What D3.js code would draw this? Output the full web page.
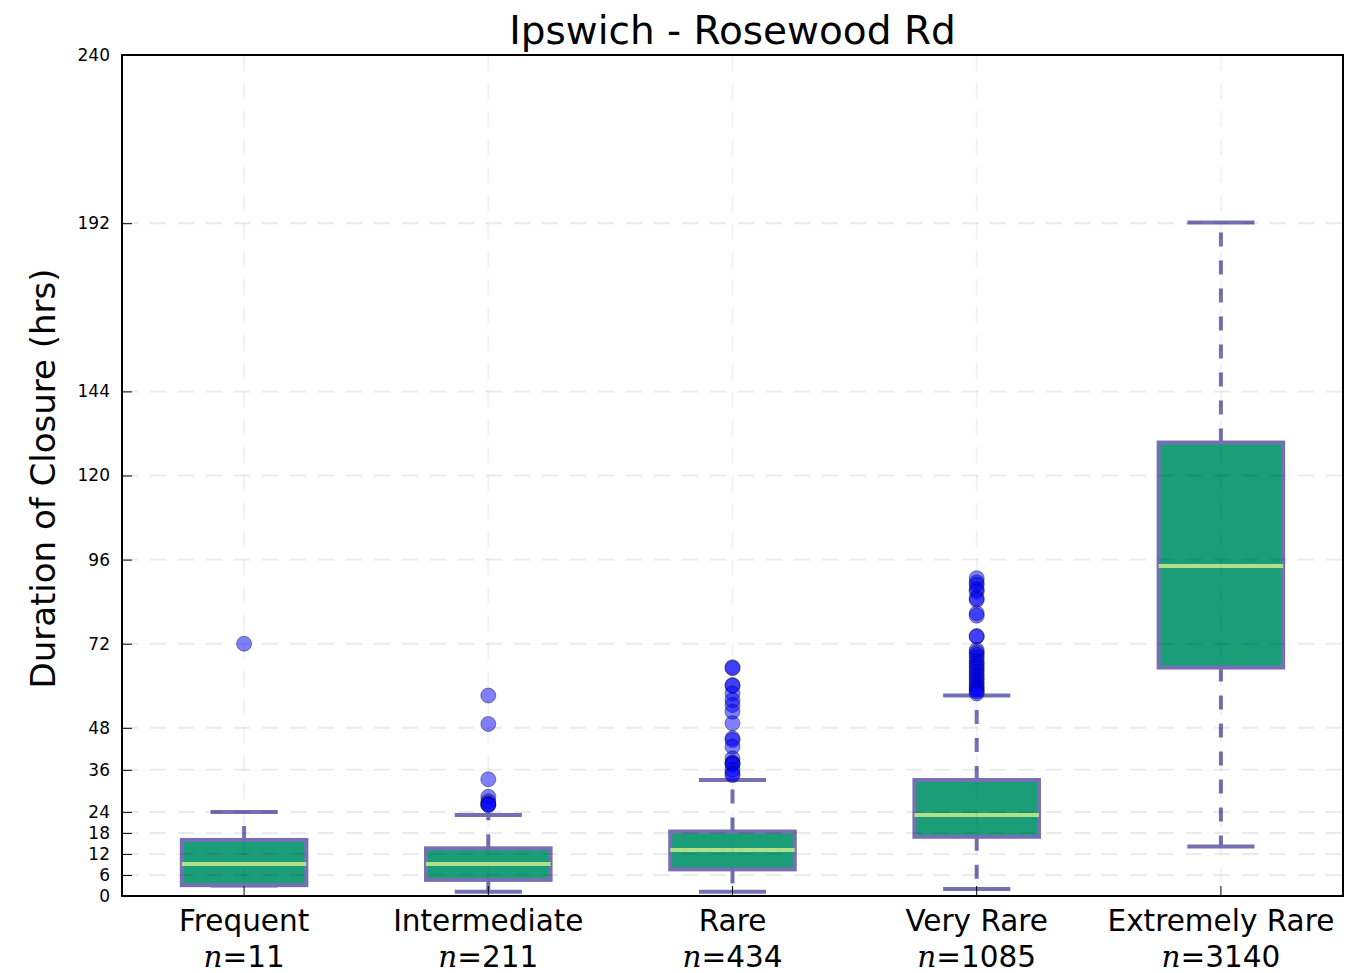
<!DOCTYPE html>
<html>
<head>
<meta charset="utf-8">
<script src="https://cdn.jsdelivr.net/npm/d3@7"></script>
<style>
  body { margin: 0; background: #fff; }
</style>
</head>
<body>
<div id="chart"></div>
<script>
const categories = ["Frequent", "Intermediate", "Rare", "Very Rare", "Extremely Rare"];
const counts = [11, 211, 434, 1085, 3140];
const whiskerLow = [3, 1.2, 1.2, 2, 14.1];
const q1 = [3.1, 4.6, 7.6, 16.9, 65.2];
const medians = [9.1, 9.1, 13.1, 23.1, 94.2];
const q3 = [16, 13.6, 18.4, 33.1, 129.4];
const whiskerHigh = [24, 23.1, 33.1, 57.2, 192.2];
const outliers = [
  [72],
  [57.2, 49.1, 33.3, 28.3, 27, 26.3, 26, 26],
  [65.3, 65, 60.2, 60, 57.8, 55.9, 54.5, 52.6, 49.3, 45, 44.5, 42.6, 39.3, 38, 37.9, 37.5, 36, 35, 34.5],
  [90.7, 89.5, 88.8, 87.5, 86.9, 85, 84.5, 80.7, 80, 74.2, 74, 70.2, 69.5, 68.8, 68, 67, 66.3, 65.5,
   64.8, 64, 63.2, 62.5, 61.8, 61, 60.3, 59.6, 59, 58.4, 57.8],
  []
];
const yTicks = [0, 6, 12, 18, 24, 36, 48, 72, 96, 120, 144, 192, 240];

const margin = {top: 55, right: 24, bottom: 77, left: 122};
const width = 1367, height = 973;
const visWidth = width - margin.left - margin.right;
const visHeight = height - margin.top - margin.bottom;

const purple = "#7570b3", teal = "#1b9e77", medColor = "#b2df8a";

const svg = d3.select("#chart").append("svg")
    .attr("width", width)
    .attr("height", height);

const g = svg.append("g")
  .attr("transform", `translate(${margin.left}, ${margin.top})`);

const x = d3.scaleLinear().domain([0.5, categories.length + 0.5]).range([0, visWidth]);
const y = d3.scaleLinear().domain([0, 240]).range([visHeight, 0]);
const unit = x(1) - x(0);
const boxW = 0.51 * unit, capW = 0.275 * unit;

const idx = d3.range(categories.length);

// boxes, whiskers, caps
const dashes = "14,14";
g.append("g").selectAll("line")
  .data(idx.flatMap(i => [[i, q3[i], whiskerHigh[i]], [i, q1[i], whiskerLow[i]]]))
  .join("line")
    .attr("x1", d => x(d[0] + 1)).attr("x2", d => x(d[0] + 1))
    .attr("y1", d => y(d[1])).attr("y2", d => y(d[2]))
    .attr("stroke", purple).attr("stroke-width", 4)
    .attr("stroke-dasharray", dashes);

g.append("g").selectAll("line")
  .data(idx.flatMap(i => [[i, whiskerHigh[i]], [i, whiskerLow[i]]]))
  .join("line")
    .attr("x1", d => x(d[0] + 1) - capW / 2).attr("x2", d => x(d[0] + 1) + capW / 2)
    .attr("y1", d => y(d[1])).attr("y2", d => y(d[1]))
    .attr("stroke", purple).attr("stroke-width", 4);

g.append("g").selectAll("rect")
  .data(idx)
  .join("rect")
    .attr("x", i => x(i + 1) - boxW / 2)
    .attr("width", boxW)
    .attr("y", i => y(q3[i]))
    .attr("height", i => y(q1[i]) - y(q3[i]))
    .attr("fill", teal)
    .attr("stroke", purple).attr("stroke-width", 4);

g.append("g").selectAll("line")
  .data(idx)
  .join("line")
    .attr("x1", i => x(i + 1) - boxW / 2).attr("x2", i => x(i + 1) + boxW / 2)
    .attr("y1", i => y(medians[i])).attr("y2", i => y(medians[i]))
    .attr("stroke", medColor).attr("stroke-width", 4);

// grid on top, very light
const grid = g.append("g").attr("stroke", "#000").attr("stroke-opacity", 0.08)
  .attr("stroke-width", 2).attr("stroke-dasharray", "16,12");
grid.selectAll(".h").data(yTicks.slice(1, -1)).join("line")
    .attr("x1", 0).attr("x2", visWidth)
    .attr("y1", d => y(d)).attr("y2", d => y(d));
grid.selectAll(".v").data(idx).join("line")
    .attr("x1", i => x(i + 1)).attr("x2", i => x(i + 1))
    .attr("y1", 0).attr("y2", visHeight)
    .attr("stroke-opacity", 0.05);

// outliers
g.append("g").selectAll("circle")
  .data(idx.flatMap(i => outliers[i].map(v => [i, v])))
  .join("circle")
    .attr("cx", d => x(d[0] + 1))
    .attr("cy", d => y(d[1]))
    .attr("r", 7.5)
    .attr("fill", "blue").attr("fill-opacity", 0.5)
    .attr("stroke", "#000").attr("stroke-opacity", 0.5).attr("stroke-width", 0.8);

// axes
const yAxis = d3.axisLeft(y).tickValues(yTicks).tickSize(-10).tickPadding(12);
g.append("g")
  .call(yAxis)
  .call(a => a.select(".domain").remove())
  .call(a => a.selectAll(".tick line").attr("stroke", "#000").attr("stroke-width", 1))
  .call(a => a.selectAll("text").attr("font-family", "DejaVu Sans").attr("font-size", 17).attr("fill", "#000"));

const xTicks = g.append("g").selectAll("g").data(idx).join("g")
  .attr("transform", i => `translate(${x(i + 1)}, ${visHeight})`);
xTicks.append("line").attr("y1", 0).attr("y2", -10).attr("stroke", "#000");
xTicks.append("text")
  .attr("y", 35)
  .attr("text-anchor", "middle")
  .attr("font-family", "DejaVu Sans").attr("font-size", 29.5).attr("fill", "#000")
  .text(i => categories[i]);
const nText = xTicks.append("text")
  .attr("y", 71)
  .attr("text-anchor", "middle")
  .attr("font-family", "DejaVu Sans").attr("font-size", 29.5).attr("fill", "#000");
nText.append("tspan").attr("font-family", "DejaVu Serif").attr("font-style", "italic").text("n");
nText.append("tspan").text(i => "=" + counts[i]);

// frame
g.append("rect")
  .attr("width", visWidth).attr("height", visHeight)
  .attr("fill", "none").attr("stroke", "#000").attr("stroke-width", 2);

// title
svg.append("text")
  .attr("x", margin.left + visWidth / 2)
  .attr("y", 44)
  .attr("text-anchor", "middle")
  .attr("font-family", "DejaVu Sans").attr("font-size", 39)
  .text("Ipswich - Rosewood Rd");

// y label
svg.append("text")
  .attr("transform", `translate(55, ${margin.top + visHeight / 2 + 3}) rotate(-90)`)
  .attr("text-anchor", "middle")
  .attr("font-family", "DejaVu Sans").attr("font-size", 34)
  .text("Duration of Closure (hrs)");
</script>
</body>
</html>
